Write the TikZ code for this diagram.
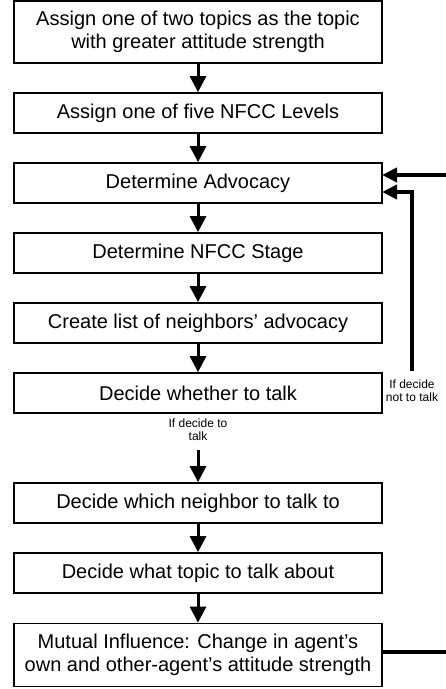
\documentclass[tikz,border=0pt]{standalone}
\usepackage{fontspec}
\setmainfont{Liberation Sans}
\usetikzlibrary{arrows.meta}
\begin{document}
\begin{tikzpicture}[x=1pt,y=-1pt,
  stepbox/.style={draw, line width=1.8pt, minimum width=368pt, minimum height=40pt, inner sep=0pt, align=center, font=\fontsize{20}{23}\selectfont},
  flow/.style={line width=3pt, -{Triangle[length=16pt,width=16pt]}},
  back/.style={line width=4.5pt, -{Triangle[length=15pt,width=14pt]}},
  small/.style={font=\fontsize{12}{13}\selectfont, align=center, inner sep=0pt}]
\useasboundingbox (0,0) rectangle (446,689);
\node[stepbox, minimum height=62pt] (b1) at (198,32) {Assign one of two topics as the topic\\with greater attitude strength};
\node[stepbox] (b2) at (198,113) {Assign one of five NFCC Levels};
\node[stepbox] (b3) at (198,183) {Determine Advocacy};
\node[stepbox] (b4) at (198,253) {Determine NFCC Stage};
\node[stepbox] (b5) at (198,323) {Create list of neighbors’ advocacy};
\node[stepbox] (b6) at (198,393) {Decide whether to talk};
\node[stepbox] (b7) at (198,503) {Decide which neighbor to talk to};
\node[stepbox] (b8) at (198,573) {Decide what topic to talk about};
\node[stepbox, minimum height=63pt] (b9) at (198,655) {Mutual Influence: Change in agent’s\\own and other-agent’s attitude strength};
\node[small] (yes) at (198,430) {If decide to\\talk};
\node[small] (no) at (412,391) {If decide\\not to talk};
\coordinate (ys) at (198,450);
\coordinate (ns) at (412,371);
\coordinate (nc) at (412,192);
\coordinate (nt) at (382,192);
\coordinate (b9r) at (382,652);
\coordinate (r1) at (449,652);
\coordinate (r2) at (449,175);
\coordinate (r3) at (382,175);
\draw[flow] (b1) -- (b2);
\draw[flow] (b2) -- (b3);
\draw[flow] (b3) -- (b4);
\draw[flow] (b4) -- (b5);
\draw[flow] (b5) -- (b6);
\draw[flow] (ys) -- (b7);
\draw[flow] (b7) -- (b8);
\draw[flow] (b8) -- (b9);
\draw[back] (ns) -- (nc) -- (nt);
\draw[back] (b9r) -- (r1) -- (r2) -- (r3);
\end{tikzpicture}
\end{document}
